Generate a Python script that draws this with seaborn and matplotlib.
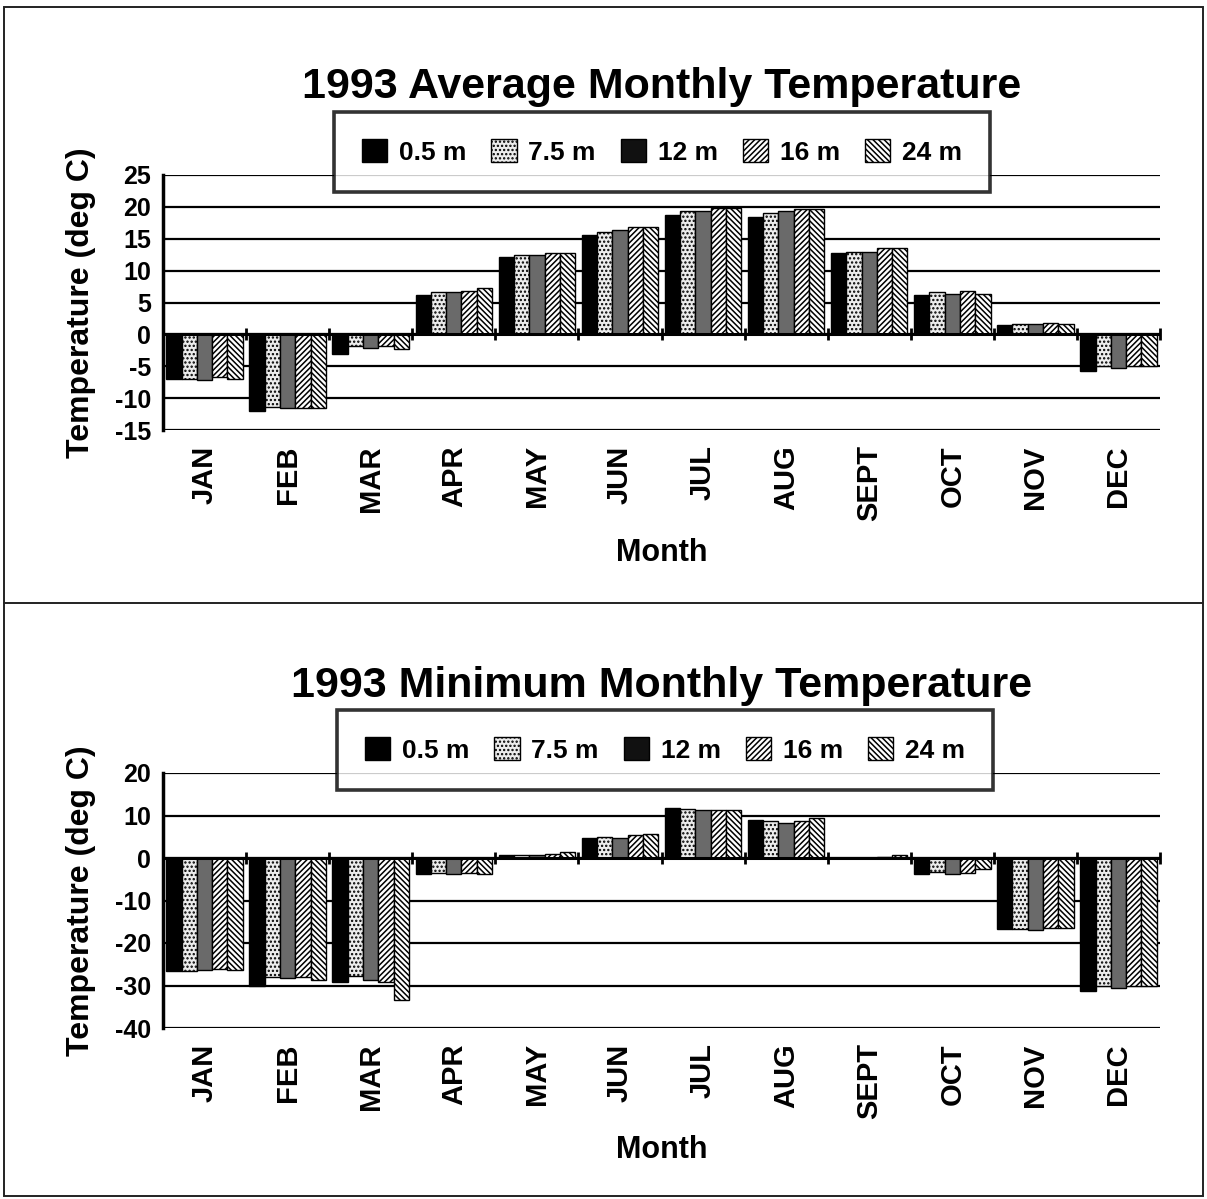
import matplotlib
matplotlib.use("Agg")
import matplotlib.pyplot as plt
from matplotlib.patches import Patch, Rectangle
from matplotlib.lines import Line2D
import numpy as np
import pandas as pd
import seaborn as sns

# ---- data -------------------------------------------------------------
months = ["JAN", "FEB", "MAR", "APR", "MAY", "JUN",
          "JUL", "AUG", "SEPT", "OCT", "NOV", "DEC"]
depths = ["0.5 m", "7.5 m", "12 m", "16 m", "24 m"]

# 1993 average monthly temperature (deg C) by depth
avg_05 = [-7.0, -12.0, -3.0, 6.1, 12.1, 15.6, 18.7, 18.4, 12.7, 6.1, 1.4, -5.8]
avg_75 = [-7.0, -11.4, -1.9, 6.6, 12.5, 16.0, 19.3, 19.0, 13.0, 6.6, 1.7, -4.9]
avg_12 = [-7.1, -11.6, -2.1, 6.7, 12.4, 16.3, 19.4, 19.3, 13.0, 6.4, 1.6, -5.3]
avg_16 = [-6.7, -11.5, -1.9, 6.8, 12.8, 16.8, 19.9, 19.7, 13.5, 6.8, 1.8, -4.9]
avg_24 = [-7.0, -11.6, -2.3, 7.3, 12.8, 16.8, 19.8, 19.7, 13.5, 6.4, 1.7, -5.0]

# 1993 minimum monthly temperature (deg C) by depth
min_05 = [-26.6, -30.1, -29.1, -3.7, 0.6, 4.7, 11.7, 9.0, 0.1, -3.7, -16.6, -31.2]
min_75 = [-26.6, -28.1, -27.7, -3.5, 0.7, 5.0, 11.6, 8.7, 0.1, -3.3, -16.6, -30.2]
min_12 = [-26.4, -28.3, -28.8, -3.7, 0.7, 4.7, 11.2, 8.2, 0.1, -3.7, -17.0, -30.5]
min_16 = [-26.2, -28.1, -29.1, -3.5, 0.9, 5.5, 11.4, 8.7, 0.2, -3.5, -16.4, -30.1]
min_24 = [-26.3, -28.7, -33.4, -3.7, 1.5, 5.6, 11.4, 9.4, 0.8, -2.7, -16.4, -30.1]

avg_ticks = [25, 20, 15, 10, 5, 0, -5, -10, -15]
min_ticks = [20, 10, 0, -10, -20, -30, -40]


def long_table(series):
    rows = []
    for depth, vals in zip(depths, series):
        for m, v in zip(months, vals):
            rows.append({"Month": m, "Depth": depth, "Temp": v})
    return pd.DataFrame(rows)


avg_df = long_table([avg_05, avg_75, avg_12, avg_16, avg_24])
min_df = long_table([min_05, min_75, min_12, min_16, min_24])

# ---- styling ----------------------------------------------------------
sns.set_style("white")
plt.rcParams["font.family"] = ["Liberation Sans", "DejaVu Sans"]
plt.rcParams["font.weight"] = "bold"
plt.rcParams["text.color"] = "black"
plt.rcParams["axes.labelcolor"] = "black"
plt.rcParams["xtick.color"] = "black"
plt.rcParams["ytick.color"] = "black"
plt.rcParams["hatch.linewidth"] = 1.1
plt.rcParams["hatch.color"] = "black"

face = {"0.5 m": "#000000", "7.5 m": "#ececec", "12 m": "#6a6a6a",
        "16 m": "#ffffff", "24 m": "#ffffff"}
hatch = {"0.5 m": None, "7.5 m": "....", "12 m": None,
         "16 m": "//////", "24 m": "\\\\\\\\\\\\"}
legend_face = dict(face, **{"12 m": "#111111"})

W, H = 1207, 1199
fig = plt.figure(figsize=(W / 100, H / 100), dpi=100)


def fx(px):
    return px / W


def fy(py):
    return 1 - py / H


def panel(df, top, bottom, ticks, title, title_y, legend_cx, legend_cy,
          month_y):
    ax = fig.add_axes([fx(163), fy(bottom), fx(1160) - fx(163),
                       fy(top) - fy(bottom)])
    sns.barplot(data=df, x="Month", y="Temp", hue="Depth",
                order=months, hue_order=depths, palette=face,
                width=0.92, gap=0, edgecolor="black", linewidth=1.0,
                errorbar=None, legend=False, ax=ax)
    for cont, d in zip(ax.containers, depths):
        for bar in cont:
            if hatch[d]:
                bar.set_hatch(hatch[d])
    ax.set_xlim(-0.5, len(months) - 0.5)
    ax.set_ylim(min(ticks), max(ticks))
    ax.set_yticks(ticks)
    ax.set_yticklabels([str(t) for t in ticks], fontsize=18,
                       fontweight="bold")
    ax.set_axisbelow(True)
    ax.yaxis.grid(True, color="black", linewidth=1.6)
    for s in ("top", "right", "bottom"):
        ax.spines[s].set_visible(False)
    ax.spines["left"].set_linewidth(2.5)
    ax.spines["left"].set_color("black")
    ax.tick_params(axis="y", direction="inout", length=9, width=2,
                   color="black", pad=4)
    ax.tick_params(axis="x", length=0, pad=11)
    ax.set_xticks(range(len(months)))
    ax.set_xticklabels(months, rotation=90, fontsize=21, fontweight="bold")
    ax.set_xlabel("")
    ax.set_ylabel("Temperature (deg C)", fontsize=23, fontweight="bold",
                  labelpad=14)
    # zero axis with category boundary ticks
    ax.axhline(0, color="black", linewidth=2.2, zorder=3)
    bounds = np.arange(len(months) + 1) - 0.5
    ax.plot(bounds, np.zeros_like(bounds), ls="none", marker="|", ms=9,
            mew=2, color="black", zorder=4, clip_on=False)

    fig.text(fx(662), fy(title_y), title, ha="center", va="center",
             fontsize=31, fontweight="bold")
    fig.text(fx(662), fy(month_y), "Month", ha="center", va="center",
             fontsize=22, fontweight="bold")

    handles = [Patch(facecolor=legend_face[d], edgecolor="black",
                     hatch=hatch[d], linewidth=1.0) for d in depths]
    leg = ax.legend(handles, depths, loc="center",
                    bbox_to_anchor=(fx(legend_cx), fy(legend_cy)),
                    bbox_transform=fig.transFigure, ncol=5, frameon=True,
                    fancybox=False, handlelength=0.95,
                    handleheight=0.95, handletextpad=0.45,
                    columnspacing=0.95, borderpad=1.05,
                    prop={"weight": "bold", "size": 19})
    leg.get_frame().set_edgecolor("black")
    leg.get_frame().set_linewidth(2.6)
    leg.get_frame().set_facecolor("white")
    leg.set_zorder(10)
    return ax


panel(avg_df, 175, 430, avg_ticks, "1993 Average Monthly Temperature",
      87, 662, 152, 553)
panel(min_df, 773, 1028, min_ticks, "1993 Minimum Monthly Temperature",
      686, 665, 750, 1150)

# page frame and divider between the two charts
fig.patches.append(Rectangle((fx(4), fy(1196)), fx(1203) - fx(4),
                             fy(7) - fy(1196), transform=fig.transFigure,
                             fill=False, edgecolor="#222222", linewidth=1.4))
fig.lines.append(Line2D([fx(4), fx(1203)], [fy(603), fy(603)],
                        transform=fig.transFigure, color="#222222",
                        linewidth=1.4))

fig.savefig("out.png", dpi=100)
